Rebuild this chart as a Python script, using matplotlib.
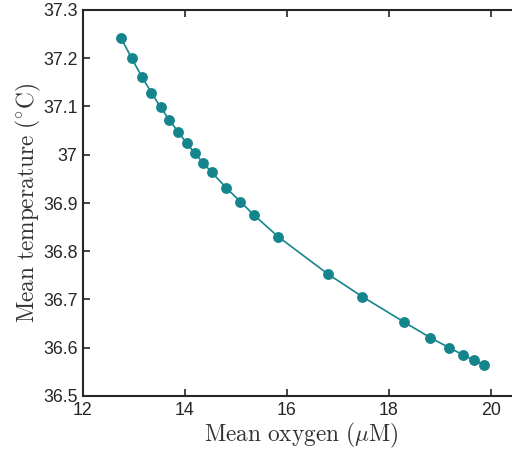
import matplotlib
matplotlib.use('Agg')
import matplotlib.pyplot as plt
import numpy as np

# mean oxygen (uM) vs mean temperature (deg C)
oxygen = [12.75, 12.955, 13.151, 13.339, 13.524, 13.692, 13.869, 14.033, 14.196,
          14.357, 14.520, 14.804, 15.084, 15.353, 15.829, 16.814, 17.476, 18.300,
          18.810, 19.182, 19.457, 19.673, 19.857]
temperature = [37.241, 37.200, 37.162, 37.129, 37.098, 37.072, 37.047, 37.024, 37.003,
               36.983, 36.964, 36.932, 36.903, 36.875, 36.830, 36.752, 36.706, 36.653,
               36.621, 36.600, 36.585, 36.574, 36.565]

xticks = [12, 14, 16, 18, 20]
yticks = [36.5, 36.6, 36.7, 36.8, 36.9, 37, 37.1, 37.2, 37.3]
yticklabels = ['36.5', '36.6', '36.7', '36.8', '36.9', '37', '37.1', '37.2', '37.3']

plt.rcParams['mathtext.fontset'] = 'cm'
plt.rcParams['font.family'] = ['Liberation Sans', 'DejaVu Sans']

teal = '#15858D'
axcol = '#262626'

fig = plt.figure(figsize=(5.12, 4.53), dpi=100)
# right edge of the box sits just past the image border, as in the reference
ax = fig.add_axes([83/512, 57/453, 436/512, 386/453])

ax.plot(oxygen, temperature, '-', color=teal, lw=1.2)
ax.plot(oxygen, temperature, 'o', color=teal, ms=6.8, mec=teal)

ax.set_xlim(12, 20.55)
ax.set_ylim(36.5, 37.3)
ax.set_xticks(xticks)
ax.set_yticks(yticks)
ax.set_yticklabels(yticklabels)

for s in ax.spines.values():
    s.set_linewidth(1.5)
    s.set_color(axcol)
ax.tick_params(direction='in', top=True, right=True, length=5, width=1.2,
               colors=axcol, labelsize=12.8, pad=4)

ax.set_xlabel(r'$\mathrm{Mean\ oxygen\ (\mu M)}$', fontsize=16.8, color='#333333', labelpad=2)
ax.set_ylabel(r'$\mathrm{Mean\ temperature\ (^{\circ}C)}$', fontsize=16.8, color='#333333', labelpad=0)

fig.savefig('out.png', dpi=100)
